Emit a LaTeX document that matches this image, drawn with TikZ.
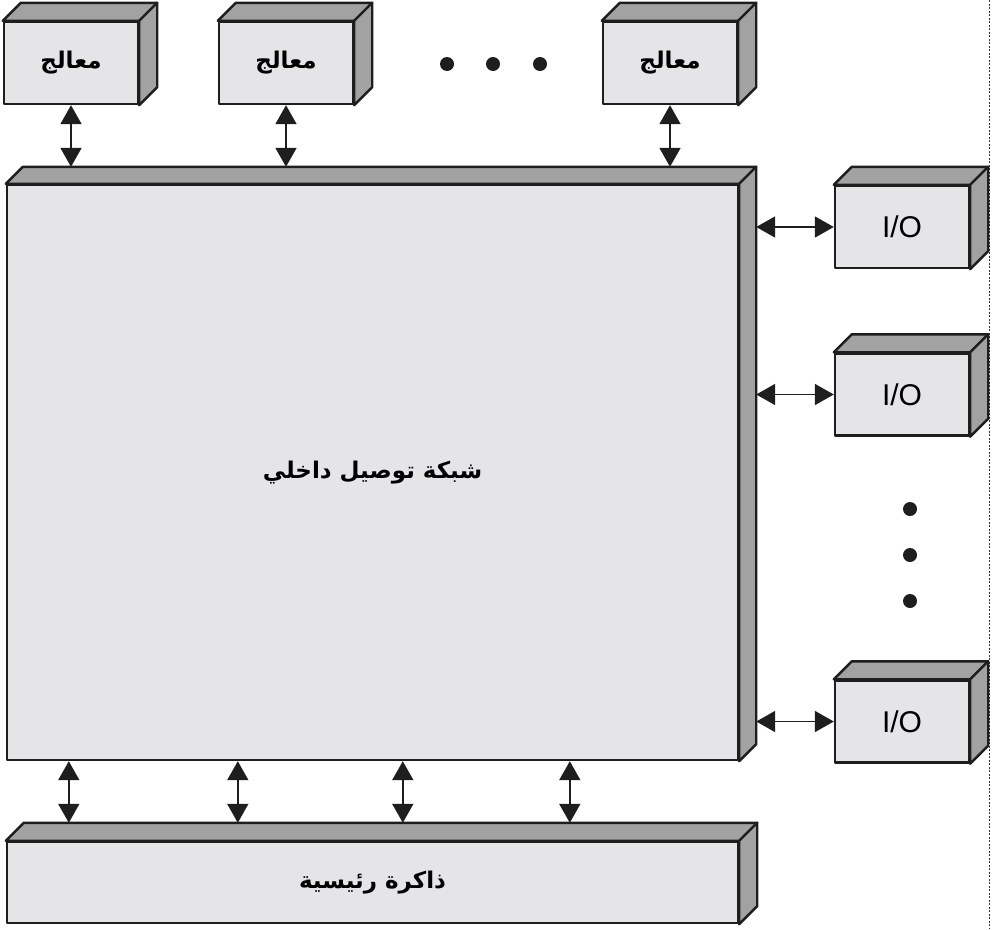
\documentclass[tikz,border=0pt]{standalone}
\usepackage{fontspec}
\setmainfont{Liberation Sans}
\newfontfamily\arabicfont[Script=Arabic]{DejaVu Sans}
\TeXXeTstate=1
\usetikzlibrary{arrows.meta,calc}
\definecolor{facec}{HTML}{E5E5E7}
\definecolor{sidec}{HTML}{A2A2A2}
\definecolor{edgec}{HTML}{1E1E1E}
\tikzset{
  frontface/.style={draw=edgec, line width=2.4pt, fill=facec, inner sep=0pt, line join=round},
  shadeface/.style={draw=edgec, line width=2.4pt, fill=sidec, line join=round},
  arabictext/.style={font=\arabicfont\bfseries\fontsize{23}{27}\selectfont},
  procbox/.style={frontface, minimum width=134pt, minimum height=82pt, arabictext},
  iobox/.style={frontface, minimum width=134pt, minimum height=82pt, font=\fontsize{30}{32}\selectfont},
  biarrow/.style={draw=edgec, line width=1.8pt, {Triangle[length=19pt,width=21pt]}-{Triangle[length=19pt,width=21pt]}},
  dotmark/.style={circle, fill=edgec, inner sep=0pt, minimum size=14pt},
  edgeline/.style={draw=black!80, line width=0.8pt, dash pattern=on 2pt off 1.5pt}
}
\newcommand\depthfaces[2]{%
  \filldraw[shadeface] (#1.north west) -- ++(#2,-#2) -- ($(#1.north east)+(#2,-#2)$) -- (#1.north east) -- cycle;
  \filldraw[shadeface] (#1.north east) -- ++(#2,-#2) -- ($(#1.south east)+(#2,-#2)$) -- (#1.south east) -- cycle;
}
\begin{document}
\begin{tikzpicture}[x=1pt,y=-1pt]
\useasboundingbox (0,0) rectangle (993,929);
% dashed border at right
\coordinate (dtop) at (989,0);
\coordinate (dbot) at (989,929);
\draw[edgeline] (dtop) -- (dbot);

% processors
\node[procbox] (p1) at (71,63) {\beginR معالج\endR};
\node[procbox] (p2) at (286,63) {\beginR معالج\endR};
\node[procbox] (p3) at (670,63) {\beginR معالج\endR};
\depthfaces{p1}{18}
\depthfaces{p2}{18}
\depthfaces{p3}{18}

% dots between processors
\node[dotmark] (d1) at (447,64) {};
\node[dotmark] (d2) at (493,64) {};
\node[dotmark] (d3) at (540,64) {};

% interconnection network
\node[frontface, minimum width=731pt, minimum height=575pt, arabictext] (net) at (372.5,472.5)
      {\beginR شبكة توصيل داخلي\endR};
\depthfaces{net}{17}
\coordinate (nettop) at ($(net.north west)+(17,-17)$);
\coordinate (netside) at ($(net.north east)+(17,0)$);

% I/O modules
\node[iobox] (io1) at (902,227) {I/O};
\node[iobox] (io2) at (902,394.5) {I/O};
\node[iobox] (io3) at (902,721.5) {I/O};
\depthfaces{io1}{18}
\depthfaces{io2}{18}
\depthfaces{io3}{18}

% vertical dots between I/O
\node[dotmark] (v1) at (910,509) {};
\node[dotmark] (v2) at (910,555) {};
\node[dotmark] (v3) at (910,601) {};

% main memory
\node[frontface, minimum width=731pt, minimum height=81pt, arabictext] (mem) at (372.5,882.5)
      {\beginR ذاكرة رئيسية\endR};
\depthfaces{mem}{18}
\coordinate (memtop) at ($(mem.north west)+(18,-18)$);

% processor links
\draw[biarrow] (p1.south) -- (p1.south |- nettop);
\draw[biarrow] (p2.south) -- (p2.south |- nettop);
\draw[biarrow] (p3.south) -- (p3.south |- nettop);

% I/O links
\draw[biarrow] (netside |- io1.west) -- (io1.west);
\draw[biarrow] (netside |- io2.west) -- (io2.west);
\draw[biarrow] (netside |- io3.west) -- (io3.west);

% memory links
\coordinate (b1) at ($(net.south west)+(63,0)$);
\coordinate (b2) at ($(net.south west)+(232,0)$);
\coordinate (b3) at ($(net.south west)+(397,0)$);
\coordinate (b4) at ($(net.south west)+(564,0)$);
\draw[biarrow] (b1) -- (b1 |- memtop);
\draw[biarrow] (b2) -- (b2 |- memtop);
\draw[biarrow] (b3) -- (b3 |- memtop);
\draw[biarrow] (b4) -- (b4 |- memtop);
\end{tikzpicture}
\end{document}
